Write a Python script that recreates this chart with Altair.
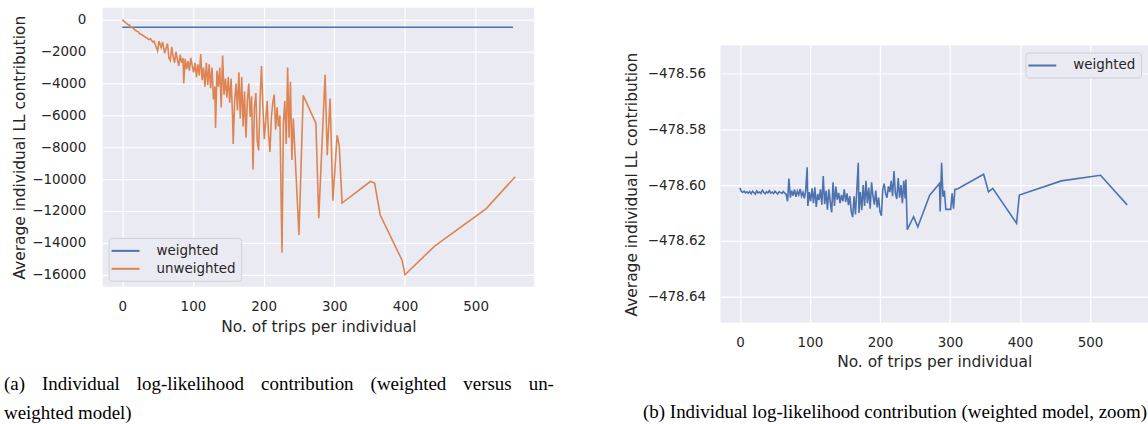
import altair as alt
import pandas as pd

# ---------------- data ----------------
trips_unweighted = [0, 3, 5, 8, 10, 13, 15, 18, 20, 23, 25, 28, 30, 33, 35, 38, 40, 43, 45, 47,
                    50, 52, 55, 57, 60, 62, 64, 66, 68, 70, 72, 74, 76, 78, 80, 82, 84, 86, 87, 89,
                    91, 93, 95, 97, 99, 101, 103, 105, 107, 109, 111, 113, 115, 117, 119, 121, 123,
                    125, 127, 129, 131, 132, 134, 136, 138, 140, 142, 144, 146, 148, 150, 152, 154,
                    156, 157, 159, 161, 163, 165, 167, 169, 171, 173, 175, 177, 179, 181, 183, 185,
                    187, 189, 191, 193, 195, 197, 199, 201, 203, 205, 207, 209, 211, 213, 215, 217,
                    219, 221, 223, 226, 228, 230, 232, 234, 236, 238, 240, 242, 250, 256, 274, 278,
                    287, 290, 294, 298, 304, 307, 311, 351, 357, 365, 396, 400, 442, 515, 556]
ll_unweighted = [0, -120, -200, -300, -330, -480, -520, -650, -700, -780, -900, -950, -1020, -1100,
                 -1150, -1250, -1200, -1400, -1350, -1600, -1950, -1350, -1750, -1400, -2100, -1800,
                 -1500, -2400, -2560, -1700, -2300, -2700, -2000, -2500, -2900, -2200, -2700, -2400,
                 -4000, -2450, -3100, -2600, -3200, -2400, -2900, -3300, -2700, -3600, -2800, -3500,
                 -2150, -3800, -3000, -4200, -2700, -4100, -2800, -4300, -3000, -5000, -4200, -6800,
                 -3200, -4200, -3000, -5500, -2250, -4700, -3700, -4900, -3600, -5200, -3700, -6000,
                 -7800, -5100, -4000, -5700, -3300, -6200, -3600, -6700, -4500, -7400, -5100, -4000,
                 -6100, -4800, -9400, -5500, -4600, -7600, -8200, -5000, -2900, -5500, -7500, -6300,
                 -5100, -7200, -8300, -6100, -5200, -4700, -6900, -5500, -6700, -6000, -14600, -6500,
                 -5100, -7800, -3000, -7400, -3900, -8800, -6200, -13500, -4750, -6500, -12450,
                 -3450, -8500, -4950, -11350, -7250, -7900, -11500, -10150, -10250, -12250, -15100,
                 -16000, -14200, -11850, -9850]

trips_weighted = [0, 2, 4, 6, 8, 10, 12, 14, 16, 18, 20, 22, 24, 26, 28, 30, 32, 34, 36, 38, 40,
                  42, 44, 46, 48, 50, 52, 54, 56, 58, 60, 62, 64, 66, 68, 70, 72, 74, 76, 78, 80,
                  82, 84, 86, 88, 90, 92, 94, 96, 97, 99, 101, 103, 105, 107, 109, 111, 113, 115,
                  117, 119, 121, 123, 125, 127, 129, 131, 133, 135, 137, 139, 141, 143, 145, 147,
                  149, 151, 153, 155, 157, 159, 161, 163, 165, 167, 169, 170, 172, 174, 176, 178,
                  180, 182, 184, 186, 188, 190, 192, 194, 196, 198, 200, 202, 204, 206, 208, 210,
                  212, 214, 216, 218, 220, 222, 224, 226, 228, 230, 232, 234, 236, 237, 239, 248,
                  254, 271, 285, 286, 288, 290, 292, 294, 301, 303, 305, 307, 310, 348, 355, 361,
                  395, 399, 459, 515, 553]
ll_weighted = [-478.6010, -478.6023, -478.6026, -478.6022, -478.6028, -478.6024, -478.6029,
               -478.6023, -478.6031, -478.6022, -478.6027, -478.6032, -478.6021, -478.6028,
               -478.6025, -478.6030, -478.6019, -478.6026, -478.6031, -478.6024, -478.6028,
               -478.6020, -478.6029, -478.6025, -478.6030, -478.6022, -478.6027, -478.6032,
               -478.6024, -478.6026, -478.6030, -478.6023, -478.6029, -478.6033, -478.6058,
               -478.5977, -478.6045, -478.6020, -478.6038, -478.6016, -478.6042, -478.6022,
               -478.6035, -478.6014, -478.6040, -478.6026, -478.6048, -478.6018, -478.5936,
               -478.6075, -478.6025, -478.6058, -478.6012, -478.6065, -478.6008, -478.6078,
               -478.6032, -478.6054, -478.6015, -478.6070, -478.5968, -478.6068, -478.6020,
               -478.6088, -478.6015, -478.6060, -478.6098, -478.5990, -478.6075, -478.6005,
               -478.6052, -478.6028, -478.6065, -478.6035, -478.6058, -478.6015, -478.6060,
               -478.6030, -478.6072, -478.6040, -478.6095, -478.6115, -478.6040, -478.6105,
               -478.6015, -478.5920, -478.6100, -478.6025, -478.6090, -478.6000, -478.6075,
               -478.5985, -478.6065, -478.6010, -478.6085, -478.5990, -478.6040, -478.6070,
               -478.6020, -478.6080, -478.6045, -478.6095, -478.6110, -478.6015, -478.5995,
               -478.6030, -478.6045, -478.6005, -478.6025, -478.5985, -478.6040, -478.5950,
               -478.6030, -478.6050, -478.5975, -478.6045, -478.6000, -478.6065, -478.5985,
               -478.6048, -478.5980, -478.6160, -478.6113, -478.6150, -478.6036, -478.5994,
               -478.6095, -478.5920, -478.6042, -478.6020, -478.6087, -478.6087, -478.6030,
               -478.6085, -478.6015, -478.6015, -478.5961, -478.6024, -478.6012, -478.6137,
               -478.6036, -478.5985, -478.5965, -478.6071]

series_names = ["weighted", "unweighted"]
series_colors = ["#4C72B0", "#DD8452"]

x_ticks = [0, 100, 200, 300, 400, 500]
left_y_ticks = [0, -2000, -4000, -6000, -8000, -10000, -12000, -14000, -16000]
right_y_ticks = [-478.64, -478.62, -478.60, -478.58, -478.56]

x_title = "No. of trips per individual"
y_title = "Average individual LL contribution"
caption_a = ["(a) Individual log-likelihood contribution (weighted versus un-".replace(" ", "\u2002\u2009\u2009"),
             "weighted model)"]
caption_b = "(b) Individual log-likelihood contribution (weighted model, zoom)"

df_w = pd.DataFrame({"trips": trips_weighted, "ll": ll_weighted, "model": series_names[0]})
df_u = pd.DataFrame({"trips": trips_unweighted, "ll": ll_unweighted, "model": series_names[1]})

BG = "#EAEAF2"
TXT = "#262626"
MINUS = "replace(datum.label, '-', '\u2212')"
panel_view = alt.ViewBackground(fill=BG, stroke=None)


def legend(orient, offset):
    return alt.Legend(title=None, orient=orient, offset=offset, symbolType="M-1.43,0H2.57",
                      symbolSize=196, symbolStrokeWidth=2, labelFontSize=13.5,
                      labelFont="DejaVu Sans", labelColor=TXT, fillColor=BG,
                      strokeColor="#CFCFD6", padding=5, cornerRadius=3, rowPadding=3,
                      labelOffset=27)


x_scale = alt.Scale(domain=[-27.75, 582.75], nice=False, zero=False)
x_axis = alt.Axis(values=x_ticks, title=x_title, format="d", labelPadding=13, titlePadding=6)

# ---------------- left panel ----------------
left_y = alt.Y("ll:Q", scale=alt.Scale(domain=[-16750, 750], nice=False, zero=False),
               axis=alt.Axis(values=left_y_ticks, title=y_title, format="d", labelExpr=MINUS,
                             labelPadding=17, titleX=-83, titleY=140, titleBaseline="middle"))
left_color = alt.Color("model:N", scale=alt.Scale(domain=series_names, range=series_colors),
                       legend=legend("bottom-left", 6))

left_w = alt.Chart(df_w).mark_line(strokeWidth=1.6).encode(
    x=alt.X("trips:Q", scale=x_scale, axis=x_axis), y=left_y, color=left_color)
left_u = alt.Chart(df_u).mark_line(strokeWidth=1.6).encode(
    x=alt.X("trips:Q", scale=x_scale, axis=x_axis), y=left_y, color=left_color)

left = alt.layer(left_w, left_u).properties(
    width=433, height=280, view=panel_view,
    title=alt.TitleParams(text=caption_a, orient="bottom", anchor="start", frame="bounds",
                          font="Liberation Serif", fontSize=19, fontWeight="normal",
                          color="black", lineHeight=29, offset=41, dx=-9))

# ---------------- right panel ----------------
right_y = alt.Y("ll:Q", scale=alt.Scale(domain=[-478.6493, -478.55], nice=False, zero=False),
                axis=alt.Axis(values=right_y_ticks, title=y_title, format=".2f", labelExpr=MINUS,
                              labelPadding=15, titleX=-89, titleY=139, titleBaseline="middle"))
right_color = alt.Color("model:N", scale=alt.Scale(domain=[series_names[0]], range=[series_colors[0]]),
                        legend=legend("top-right", 7))

right = alt.Chart(df_w).mark_line(strokeWidth=1.6).encode(
    x=alt.X("trips:Q", scale=x_scale, axis=x_axis), y=right_y, color=right_color
).properties(
    width=429, height=278, view=panel_view,
    title=alt.TitleParams(text=caption_b, orient="bottom", anchor="end", frame="bounds",
                          font="Liberation Serif", fontSize=19, fontWeight="normal",
                          color="black", offset=33, dx=-1))

spacer = alt.Chart(pd.DataFrame({"v": [0]})).mark_point(opacity=0).encode(
    x=alt.X("v:Q", axis=None), y=alt.Y("v:Q", axis=None)
).properties(width=429, height=38, view=alt.ViewBackground(fill=None, stroke=None))

right_col = alt.vconcat(spacer, right, spacing=0).resolve_scale(
    x="independent", y="independent", color="independent")

chart = alt.hconcat(left, right_col, spacing=70).resolve_scale(
    x="independent", y="independent", color="independent"
).resolve_legend(color="independent").properties(
    padding={"left": 4, "top": 7, "right": 0, "bottom": 0}
).configure(background="white").configure_axis(
    grid=True, gridColor="white", gridWidth=1.2, domain=False, ticks=False, tickSize=0,
    labelFont="DejaVu Sans", labelFontSize=13.5, labelColor=TXT,
    titleFont="DejaVu Sans", titleFontSize=15.5, titleFontWeight="normal", titleColor=TXT)

chart.save("out.html", embed_options={"renderer": "svg", "actions": False})
